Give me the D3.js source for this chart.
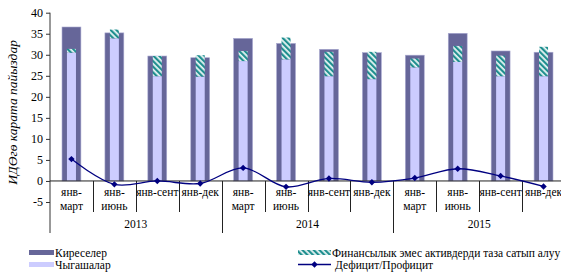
<!DOCTYPE html>
<html><head><meta charset="utf-8">
<script src="https://cdn.jsdelivr.net/npm/d3@7"></script>
<style>body{margin:0;background:#fff}svg{display:block}</style>
</head><body><svg id="c" width="561" height="277"></svg>
<script>
const quarters = ["янв-март","янв-июнь","янв-сент","янв-дек","янв-март","янв-июнь","янв-сент","янв-дек","янв-март","янв-июнь","янв-сент","янв-дек"];
const years = ["2013","2014","2015"];
const revenues = [36.6,35.2,29.7,29.3,33.9,32.7,31.3,30.5,29.9,35.1,30.9,30.6];
const expenses = [30.5,33.9,24.9,24.8,28.5,28.9,24.9,24.2,27.0,28.3,24.9,24.9];
const netAssets = [0.9,2.1,4.8,5.1,2.4,5.2,5.8,6.5,2.1,3.8,4.9,7.0];
const balance = [5.2,-0.8,0.0,-0.6,3.1,-1.4,0.6,-0.3,0.7,2.9,1.2,-1.3];
const yTicks = [40,35,30,25,20,15,10,5,0,-5];
const seriesNames = ["Киреселер","Чыгашалар","Финансылык эмес активдерди таза сатып алуу","Дефицит/Профицит"];
const yTitle = "ИДӨгө карата пайыздар";

const FONT = "Liberation Serif";
const svg = d3.select("#c");
const L = 50, R = 565, T = 12.7, B = 202;
const idx = d3.range(quarters.length);
const x = d3.scaleBand().domain(idx).range([L, R]).padding(0);
const y = d3.scaleLinear().domain([-5, 40]).range([B, T]);
const bw = x.bandwidth();

const defs = svg.append("defs");
const pat = defs.append("pattern").attr("id","hatch").attr("patternUnits","userSpaceOnUse")
  .attr("width",4).attr("height",4).attr("patternTransform","rotate(-45)");
pat.append("rect").attr("width",4).attr("height",4).attr("fill","#e8f4f4");
pat.append("rect").attr("width",2.2).attr("height",4).attr("fill","#1f8f8f");

// bars
const g = svg.append("g");
g.selectAll("rect.rev").data(idx).join("rect")
  .attr("x", i => x(i) + bw/2 - bw*0.22).attr("width", bw*0.44)
  .attr("y", i => y(revenues[i])).attr("height", i => y(0) - y(revenues[i]))
  .attr("fill","#666699").attr("stroke","#a9a9d0").attr("stroke-width",0.6);
g.selectAll("rect.exp").data(idx).join("rect")
  .attr("x", i => x(i) + bw/2 - bw*0.105).attr("width", bw*0.21)
  .attr("y", i => y(expenses[i])).attr("height", i => y(0) - y(expenses[i]))
  .attr("fill","#ccccff");
g.selectAll("rect.net").data(idx).join("rect")
  .attr("x", i => x(i) + bw/2 - bw*0.105).attr("width", bw*0.21)
  .attr("y", i => y(expenses[i] + netAssets[i])).attr("height", i => y(expenses[i]) - y(expenses[i]+netAssets[i]))
  .attr("fill","url(#hatch)");

// y axis
const ya = svg.append("g").attr("transform",`translate(${L},0)`)
  .call(d3.axisLeft(y).tickValues(yTicks).tickSize(4).tickPadding(3).tickFormat(d => String(d)));
ya.attr("font-family", FONT).attr("font-size", 12);
ya.selectAll("text").attr("font-family", FONT);
ya.select(".domain").remove();
ya.selectAll("line").attr("stroke","#333");
svg.append("line").attr("x1",L).attr("x2",L).attr("y1",T).attr("y2",233).attr("stroke","#333").attr("stroke-width",1);

// category axis at 0
svg.append("line").attr("x1",L).attr("x2",R).attr("y1",y(0)).attr("y2",y(0)).attr("stroke","#222").attr("stroke-width",1);
idx.forEach(i => {
  if (i === 0) return;
  const xx = Math.round(x(i)) + 0.5;
  const yearBound = i % 4 === 0;
  svg.append("line").attr("x1",xx).attr("x2",xx).attr("y1",y(0)).attr("y2", yearBound ? 233 : 212)
    .attr("stroke","#222").attr("stroke-width",1);
});
const cl = svg.append("g").attr("text-anchor","middle");
idx.forEach(i => {
  const parts = quarters[i].split("-");
  const cx = x(i) + bw/2;
  const add = (t, yy) => cl.append("text").attr("x",cx).attr("y",yy)
    .attr("font-family",FONT).attr("font-size",11.5).text(t);
  if (quarters[i] === "янв-сент" || quarters[i] === "янв-дек") {
    add(quarters[i], 196);
  } else {
    add(parts[0] + "-", 196);
    add(parts[1], 209.5);
  }
});
years.forEach((yr, j) => {
  const cx = (x(j*4) + x(j*4+3) + bw)/2;
  svg.append("text").attr("x",cx).attr("y",228).attr("text-anchor","middle")
    .attr("font-family",FONT).attr("font-size",11.5).text(yr);
});

// line
const line = d3.line().x(i => x(i) + bw/2).y(i => y(balance[i])).curve(d3.curveCatmullRom.alpha(0.5));
svg.append("path").attr("d", line(idx)).attr("fill","none").attr("stroke","#000080").attr("stroke-width",1.3);
const diamond = d3.symbol().type(d3.symbolDiamond2 || d3.symbolDiamond).size(26);
svg.selectAll("path.pt").data(idx).join("path")
  .attr("transform", i => `translate(${x(i)+bw/2},${y(balance[i])})`)
  .attr("d", diamond).attr("fill","#000080");

// y title
svg.append("text").attr("transform",`translate(17,${(T+B)/2 + 5}) rotate(-90)`)
  .attr("text-anchor","middle").attr("font-family",FONT).attr("font-size",13.5).attr("font-style","italic").text(yTitle);

// legend
const lg = svg.append("g");
const ltxt = (t, xx, yy) => lg.append("text").attr("x",xx).attr("y",yy).attr("font-family",FONT).attr("font-size",11.5).text(t);
lg.append("rect").attr("x",29).attr("y",250).attr("width",25).attr("height",5).attr("fill","#666699");
ltxt(seriesNames[0], 55, 256.5);
lg.append("rect").attr("x",29).attr("y",262).attr("width",25).attr("height",5).attr("fill","#ccccff");
ltxt(seriesNames[1], 55, 268.5);
lg.append("rect").attr("x",298).attr("y",250).attr("width",33).attr("height",5).attr("fill","url(#hatch)");
ltxt(seriesNames[2], 332, 256.5);
lg.append("line").attr("x1",298).attr("x2",331).attr("y1",264.5).attr("y2",264.5).attr("stroke","#000080").attr("stroke-width",1.3);
lg.append("path").attr("transform","translate(314.5,264.5)").attr("d",diamond).attr("fill","#000080");
ltxt(seriesNames[3], 335, 268.5);
</script></body></html>
